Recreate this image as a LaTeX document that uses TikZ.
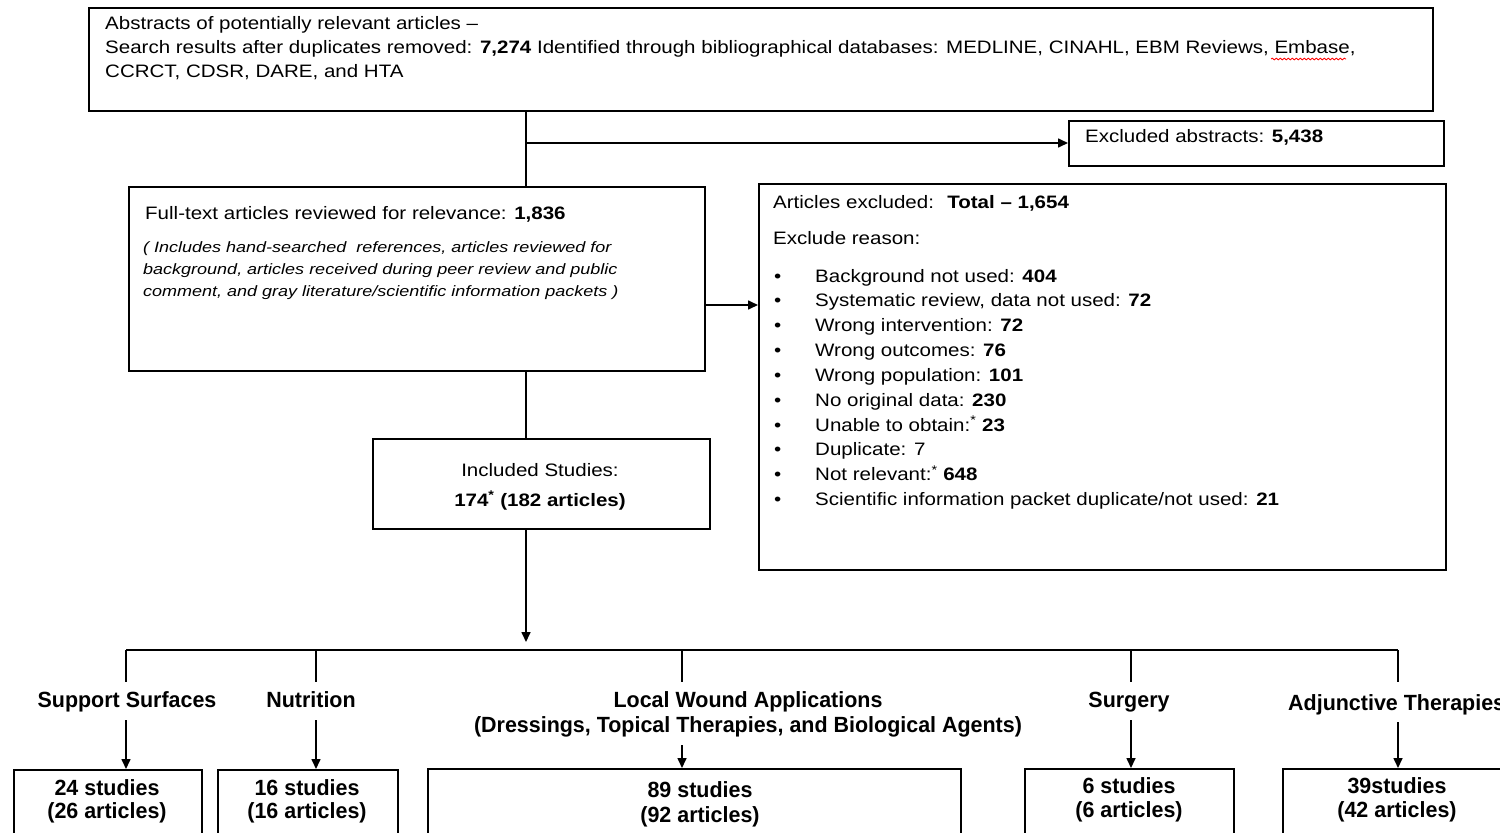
\documentclass[tikz,border=0pt]{standalone}
\usepackage{fontspec}
\setmainfont[FakeStretch=1.14]{Liberation Sans}
\newfontfamily\condfont[FakeStretch=0.975]{Liberation Sans}
\newfontfamily\notefont[FakeStretch=1.2]{Liberation Sans}
\usetikzlibrary{arrows.meta,decorations.pathmorphing}

\tikzset{
    box/.style={draw=black, line width=1.6pt, anchor=north west, inner sep=0pt},
    txt/.style={anchor=base west, inner sep=0pt, font=\fontsize{18}{24}\selectfont},
    note/.style={anchor=base west, inner sep=0pt, font=\fontsize{15}{22}\selectfont\notefont\itshape},
    ctr/.style={anchor=base, inner sep=0pt, font=\fontsize{18}{24}\selectfont},
    cat/.style={anchor=base, inner sep=0pt, font=\fontsize{22}{25}\selectfont\condfont\bfseries},
    line/.style={line width=1.6pt},
    arr/.style={line width=1.6pt, -{Triangle[length=10pt,width=9pt]}}
}

\begin{document}
\begin{tikzpicture}[x=1pt, y=-1pt]
\useasboundingbox (0,0) rectangle (1500,833);
\clip (0,0) rectangle (1500,833);

% Search results
\node[box, minimum width=1344, minimum height=103] (search) at (88,7) {};
\node[txt] (s1) at (105,29) {Abstracts of potentially relevant articles --};
\node[txt] (s2) at (105,53) {Search results after duplicates removed: \textbf{7,274} Identified through bibliographical databases: MEDLINE, CINAHL, EBM Reviews, Embase,};
\node[txt] (s3) at (105,77) {CCRCT, CDSR, DARE, and HTA};
\draw[red, line width=0.8pt, decorate, decoration={snake, amplitude=0.9pt, segment length=4pt}] (1271,59) -- (1346,59);

% Excluded abstracts
\node[box, minimum width=375, minimum height=45] (exabs) at (1068,120) {};
\node[txt] (exabstxt) at (1085,142) {Excluded abstracts: \textbf{5,438}};

% Full text review
\node[box, minimum width=576, minimum height=184] (full) at (128,186) {};
\node[txt] (f1) at (145,219) {Full-text articles reviewed for relevance: \textbf{1,836}};
\node[note] (f2) at (143,252) {( Includes hand-searched \ references, articles reviewed for};
\node[note] (f3) at (143,274) {background, articles received during peer review and public};
\node[note] (f4) at (143,296) {comment, and gray literature/scientific information packets )};

% Articles excluded
\node[box, minimum width=687, minimum height=386] (exart) at (758,183) {};
\node[txt] (e1) at (773,208) {Articles excluded: \ \textbf{Total -- 1,654}};
\node[txt] (e2) at (773,244) {Exclude reason:};
\foreach \reason [count=\i from 0] in {
    {Background not used: \textbf{404}},
    {Systematic review, data not used: \textbf{72}},
    {Wrong intervention: \textbf{72}},
    {Wrong outcomes: \textbf{76}},
    {Wrong population: \textbf{101}},
    {No original data: \textbf{230}},
    {Unable to obtain:\textsuperscript{*} \textbf{23}},
    {Duplicate: 7},
    {Not relevant:\textsuperscript{*} \textbf{648}},
    {Scientific information packet duplicate/not used: \textbf{21}}}{
  \node[txt] (b\i) at (774,282+24.85*\i) {\textbullet};
  \node[txt] (r\i) at (815,282+24.85*\i) {\reason};
}

% Included studies
\node[box, minimum width=337, minimum height=90] (incl) at (372,438) {};
\node[ctr] (i1) at (540,476) {Included Studies:};
\node[ctr] (i2) at (540,506) {\textbf{174\textsuperscript{*} (182 articles)}};

% Connectors
\coordinate (split) at (526,143);
\draw[line] (search.south -| split) -- (full.north -| split);
\draw[arr] (split) -- (split -| exabs.west);
\coordinate (side) at (704,305);
\draw[arr] (side) -- (side -| exart.west);
\draw[line] (full.south -| split) -- (incl.north -| split);
\coordinate (bar) at (526,642);
\draw[arr] (incl.south -| bar) -- (bar);

% Categories
\coordinate (barL) at (126,650);
\coordinate (barR) at (1398,650);
\draw[line] (barL) -- (barR);
\foreach \x in {126,316,682,1131,1398}
  \draw[line] (\x,650) -- (\x,682);

\node[cat] (c1) at (127,707) {Support Surfaces};
\node[cat] (c2) at (311,707) {Nutrition};
\node[cat] (c3) at (748,707) {Local Wound Applications};
\node[cat] (c3b) at (748,732) {(Dressings, Topical Therapies, and Biological Agents)};
\node[cat] (c4) at (1129,707) {Surgery};
\node[cat, anchor=base west] (c5) at (1288,710) {Adjunctive Therapies};

% Study counts
\node[box, minimum width=188, minimum height=90] (n1) at (13,769) {};
\node[box, minimum width=180, minimum height=90] (n2) at (217,769) {};
\node[box, minimum width=533, minimum height=90] (n3) at (427,768) {};
\node[box, minimum width=209, minimum height=90] (n4) at (1024,768) {};
\node[box, minimum width=240, minimum height=90] (n5) at (1282,768) {};

\node[cat] (t1) at (107,795) {24 studies};
\node[cat] (u1) at (107,818) {(26 articles)};
\node[cat] (t2) at (307,795) {16 studies};
\node[cat] (u2) at (307,818) {(16 articles)};
\node[cat] (t3) at (700,797) {89 studies};
\node[cat] (u3) at (700,822) {(92 articles)};
\node[cat] (t4) at (1129,793) {6 studies};
\node[cat] (u4) at (1129,817) {(6 articles)};
\node[cat] (t5) at (1397,793) {39studies};
\node[cat] (u5) at (1397,817) {(42 articles)};

\coordinate (a1) at (126,720);
\coordinate (a2) at (316,720);
\coordinate (a3) at (682,745);
\coordinate (a4) at (1131,720);
\coordinate (a5) at (1398,722);
\foreach \k in {1,...,5}
  \draw[arr] (a\k) -- (a\k |- n\k.north);

\end{tikzpicture}
\end{document}
